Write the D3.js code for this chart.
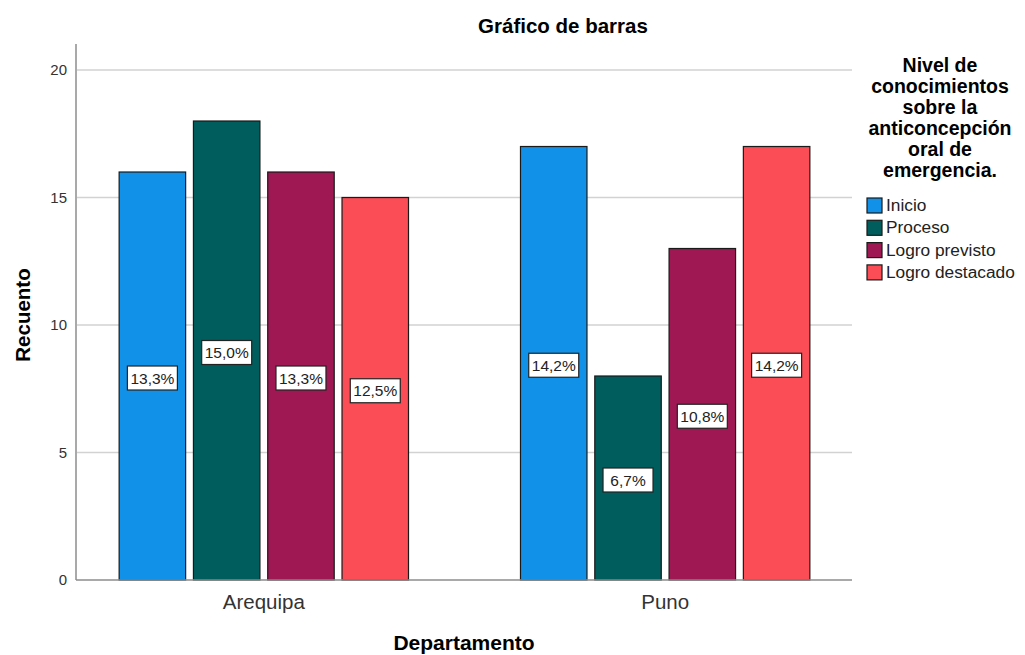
<!DOCTYPE html>
<html>
<head>
<meta charset="utf-8">
<script src="https://cdn.jsdelivr.net/npm/d3@7"></script>
<style>
  body { margin: 0; background: #fff; }
  text { font-family: "Liberation Sans", Arial, sans-serif; }
</style>
</head>
<body>
<div id="chart"></div>
<script>

var width = 1025,
  height = 655;

// data
var departamentos = ["Arequipa", "Puno"];
var niveles = ["Inicio", "Proceso", "Logro previsto", "Logro destacado"];
var colores = ["#1192e8", "#005d5d", "#9f1853", "#fa4d56"];
var recuentoArequipa = [16, 18, 16, 15];
var recuentoPuno = [17, 8, 13, 17];
var porcentajeArequipa = ["13,3%", "15,0%", "13,3%", "12,5%"];
var porcentajePuno = ["14,2%", "6,7%", "10,8%", "14,2%"];
var yTicks = [0, 5, 10, 15, 20];
var legendTitle = ["Nivel de", "conocimientos", "sobre la", "anticoncepción", "oral de", "emergencia."];

var recuentos = [recuentoArequipa, recuentoPuno];
var porcentajes = [porcentajeArequipa, porcentajePuno];

var plot = { left: 77, right: 852, top: 44, bottom: 580 };

var svg = d3.select("#chart")
  .append("svg")
  .attr("width", width)
  .attr("height", height);

var y = d3.scaleLinear()
  .domain([0, 21.02])
  .range([plot.bottom, plot.top]);

var x0 = d3.scaleBand()
  .domain(departamentos)
  .range([plot.left, plot.right])
  .paddingInner(0.279)
  .paddingOuter(0.105);

var x1 = d3.scaleBand()
  .domain(niveles)
  .range([0, x0.bandwidth()])
  .paddingInner(0.105)
  .paddingOuter(0);

var color = d3.scaleOrdinal()
  .domain(niveles)
  .range(colores);

// gridlines
svg.append("g")
  .selectAll("line")
  .data(yTicks.filter(function (d) { return d > 0; }))
  .enter().append("line")
  .attr("x1", plot.left)
  .attr("x2", plot.right)
  .attr("y1", function (d) { return y(d); })
  .attr("y2", function (d) { return y(d); })
  .attr("stroke", "#d2d2d2")
  .attr("stroke-width", 1.5);

// y axis
var yAxis = svg.append("g")
  .attr("transform", "translate(" + (plot.left - 1) + ",0)")
  .call(d3.axisLeft(y).tickValues(yTicks).tickSize(0).tickPadding(9));
yAxis.select(".domain").remove();
yAxis.selectAll("text")
  .attr("fill", "#333")
  .style("font-size", "15px")
  .style("font-family", "Liberation Sans, Arial, sans-serif");

svg.append("line")
  .attr("x1", plot.left - 1).attr("x2", plot.left - 1)
  .attr("y1", plot.top).attr("y2", plot.bottom)
  .attr("stroke", "#8c8c8c")
  .attr("stroke-width", 1.5);

// bars
var groups = svg.append("g")
  .selectAll("g")
  .data(departamentos)
  .enter().append("g")
  .attr("transform", function (d) { return "translate(" + x0(d) + ",0)"; });

groups.selectAll("rect")
  .data(function (d, i) {
    return niveles.map(function (n, j) {
      return { nivel: n, value: recuentos[i][j], pct: porcentajes[i][j] };
    });
  })
  .enter().append("rect")
  .attr("x", function (d) { return x1(d.nivel); })
  .attr("y", function (d) { return y(d.value); })
  .attr("width", x1.bandwidth())
  .attr("height", function (d) { return y(0) - y(d.value); })
  .attr("fill", function (d) { return color(d.nivel); })
  .attr("stroke", "#1a1a1a")
  .attr("stroke-width", 1.2);

// percentage labels
var labels = groups.selectAll("g.lbl")
  .data(function (d, i) {
    return niveles.map(function (n, j) {
      return { nivel: n, value: recuentos[i][j], pct: porcentajes[i][j] };
    });
  })
  .enter().append("g")
  .attr("class", "lbl")
  .attr("transform", function (d) {
    return "translate(" + (x1(d.nivel) + x1.bandwidth() / 2) + "," + (y(d.value / 2) + 2) + ")";
  });

labels.append("rect")
  .attr("x", -25)
  .attr("y", -12)
  .attr("width", 50)
  .attr("height", 24)
  .attr("fill", "#fff")
  .attr("stroke", "#222")
  .attr("stroke-width", 1.2);

labels.append("text")
  .attr("text-anchor", "middle")
  .attr("dy", "0.36em")
  .attr("fill", "#222")
  .style("font-size", "15.5px")
  .text(function (d) { return d.pct; });

// x axis line
svg.append("line")
  .attr("x1", plot.left - 1).attr("x2", plot.right)
  .attr("y1", plot.bottom).attr("y2", plot.bottom)
  .attr("stroke", "#8c8c8c")
  .attr("stroke-width", 1.5);

// category labels
svg.append("g")
  .selectAll("text")
  .data(departamentos)
  .enter().append("text")
  .attr("x", function (d) { return x0(d) + x0.bandwidth() / 2; })
  .attr("y", 609)
  .attr("text-anchor", "middle")
  .attr("fill", "#333")
  .style("font-size", "20.5px")
  .text(function (d) { return d; });

// titles
svg.append("text")
  .attr("x", 563)
  .attr("y", 33)
  .attr("text-anchor", "middle")
  .style("font-size", "20.5px")
  .style("font-weight", "bold")
  .text("Gráfico de barras");

svg.append("text")
  .attr("transform", "translate(30,315) rotate(-90)")
  .attr("text-anchor", "middle")
  .style("font-size", "20.5px")
  .style("font-weight", "bold")
  .text("Recuento");

svg.append("text")
  .attr("x", 464)
  .attr("y", 650)
  .attr("text-anchor", "middle")
  .style("font-size", "21px")
  .style("font-weight", "bold")
  .text("Departamento");

// legend
var legend = svg.append("g");

legend.selectAll("text.lt")
  .data(legendTitle)
  .enter().append("text")
  .attr("class", "lt")
  .attr("x", 940)
  .attr("y", function (d, i) { return 72 + i * 21; })
  .attr("text-anchor", "middle")
  .style("font-size", "19.5px")
  .style("font-weight", "bold")
  .text(function (d) { return d; });

var items = legend.selectAll("g.item")
  .data(niveles)
  .enter().append("g")
  .attr("class", "item")
  .attr("transform", function (d, i) { return "translate(867," + (198 + i * 22.3) + ")"; });

items.append("rect")
  .attr("width", 15)
  .attr("height", 15)
  .attr("fill", function (d) { return color(d); })
  .attr("stroke", "#1a1a1a")
  .attr("stroke-width", 1.2);

items.append("text")
  .attr("x", 19)
  .attr("y", 13)
  .attr("fill", "#222")
  .style("font-size", "17.3px")
  .text(function (d) { return d; });

</script>
</body>
</html>
